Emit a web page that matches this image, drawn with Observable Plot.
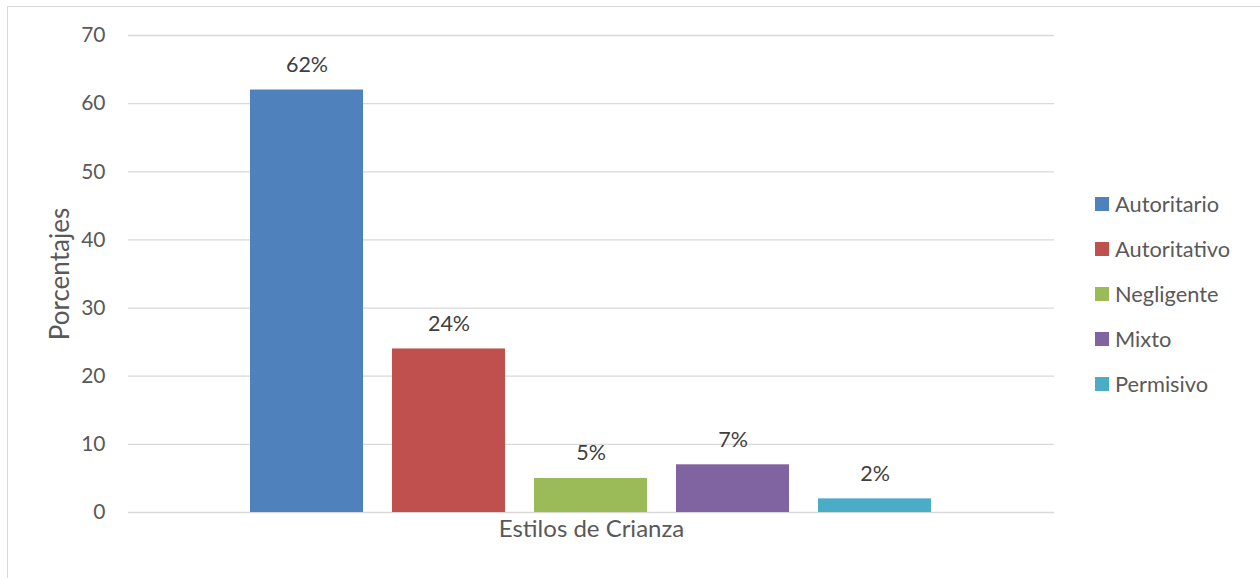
<!DOCTYPE html>
<html>
<head>
<meta charset="utf-8">
<script src="https://cdn.jsdelivr.net/npm/d3@7"></script>
<script src="https://cdn.jsdelivr.net/npm/@observablehq/plot@0.6"></script>
<style>
  html, body { margin: 0; padding: 0; background: #fff; overflow: hidden; }
  #wrap { position: relative; width: 1260px; height: 578px; font-family: Lato, "Open Sans", sans-serif; }
  #frame { position: absolute; left: 7px; top: 6px; width: 1280px; height: 620px; border: 1px solid #d9d9d9; box-sizing: border-box; }
  #chart { position: absolute; left: 0; top: 0; }
  #legend { position: absolute; left: 1095px; top: 181px; }
  .li { display: flex; align-items: center; height: 45px; font-size: 21.8px; color: #595959; }
  .sw { width: 14px; height: 14px; margin-right: 6px; }
</style>
</head>
<body>
<div id="wrap">
  <div id="frame"></div>
  <div id="chart"></div>
  <div id="legend"></div>
</div>
<script>
const series = ["Autoritario", "Autoritativo", "Negligente", "Mixto", "Permisivo"];
const values = [62, 24, 5, 7, 2];
const labels = ["62%", "24%", "5%", "7%", "2%"];
const colors = ["#4F81BD", "#C0504D", "#9BBB59", "#8064A2", "#4BACC6"];
const yTicks = [0, 10, 20, 30, 40, 50, 60, 70];
const xTitle = "Estilos de Crianza";
const yTitle = "Porcentajes";

const data = series.map((s, i) => ({serie: s, value: values[i], label: labels[i]}));

const chart = Plot.plot({
  width: 1260,
  height: 578,
  marginTop: 35,
  marginBottom: 66,
  marginLeft: 128,
  marginRight: 206,
  style: { fontFamily: "Lato, 'Open Sans', sans-serif", fontSize: "21px", color: "#595959", background: "transparent" },
  x: { domain: series, paddingInner: 0.204, paddingOuter: 0.852, axis: null },
  y: { domain: [0, 70] },
  color: { domain: series, range: colors },
  marks: [
    Plot.gridY(yTicks, { stroke: "#d9d9d9", strokeOpacity: 1, strokeWidth: 1.3 }),
    Plot.axisY(yTicks, { tickSize: 0, tickPadding: 23, label: null, fill: "#595959", fontSize: 21 }),
    Plot.barY(data, { x: "serie", y: "value", fill: "serie" }),
    Plot.text(data, { x: "serie", y: "value", text: "label", dy: -25, fill: "#404040", fontSize: 21.5 }),
    Plot.text([xTitle], { frameAnchor: "bottom", dy: 24, fill: "#595959", fontSize: 24 }),
    Plot.text([yTitle], { frameAnchor: "left", textAnchor: "middle", rotate: -90, dx: -68, fill: "#595959", fontSize: 26 })
  ]
});
document.getElementById("chart").appendChild(chart);

const legend = document.getElementById("legend");
series.forEach((s, i) => {
  const row = document.createElement("div");
  row.className = "li";
  const sw = document.createElement("div");
  sw.className = "sw";
  sw.style.background = colors[i];
  const t = document.createElement("span");
  t.textContent = s;
  row.appendChild(sw);
  row.appendChild(t);
  legend.appendChild(row);
});
</script>
</body>
</html>
